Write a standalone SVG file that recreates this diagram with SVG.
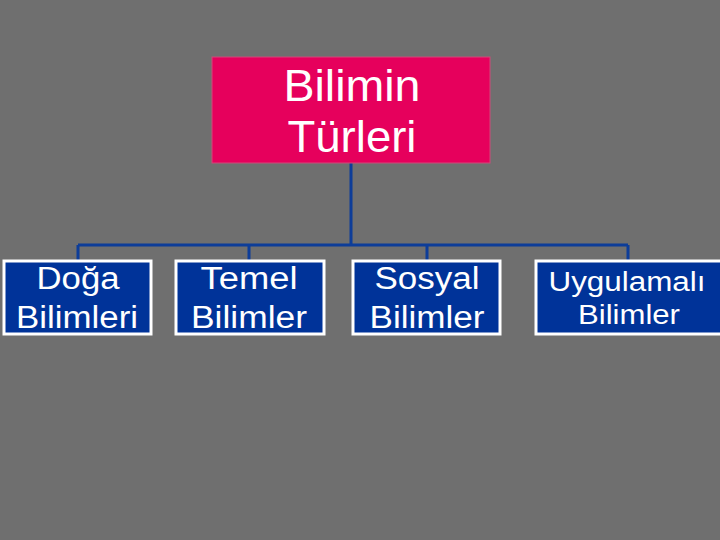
<svg xmlns="http://www.w3.org/2000/svg" width="720" height="540" viewBox="0 0 720 540">
<style>
.c{fill:#003399;stroke:#fff;stroke-width:3}
.t{font-family:"Liberation Sans",Arial,sans-serif;fill:#fff;text-anchor:middle}
.l{stroke:#0d3d99;stroke-width:3;fill:none}
</style>
<rect width="720" height="540" fill="#6f6f6f"/>
<g id="connectors">
<path class="l" d="M351 163V245M78 245H628M78 245V260M249 245V260M427 245V260M628 245V260"/>
</g>
<g id="root">
<rect x="212" y="57" width="278" height="106" fill="#e6005c" stroke="#d04a7a" stroke-width="1"/>
<text class="t" x="352" y="101" font-size="44" textLength="137" lengthAdjust="spacingAndGlyphs">Bilimin</text>
<text class="t" x="352" y="152" font-size="44" textLength="129" lengthAdjust="spacingAndGlyphs">Türleri</text>
</g>
<g id="n1"><rect class="c" x="4" y="261" width="147" height="73"/>
<text class="t" x="78" y="289" font-size="31" textLength="83" lengthAdjust="spacingAndGlyphs">Doğa</text><text class="t" x="77" y="328" font-size="31" textLength="122" lengthAdjust="spacingAndGlyphs">Bilimleri</text></g>
<g id="n2"><rect class="c" x="176" y="261" width="148" height="73"/>
<text class="t" x="249" y="289" font-size="31" textLength="97" lengthAdjust="spacingAndGlyphs">Temel</text><text class="t" x="249" y="328" font-size="31" textLength="116" lengthAdjust="spacingAndGlyphs">Bilimler</text></g>
<g id="n3"><rect class="c" x="353" y="261" width="147" height="73"/>
<text class="t" x="427" y="289" font-size="31" textLength="105" lengthAdjust="spacingAndGlyphs">Sosyal</text><text class="t" x="427" y="328" font-size="31" textLength="115" lengthAdjust="spacingAndGlyphs">Bilimler</text></g>
<g id="n4"><rect class="c" x="536" y="261" width="186" height="73"/>
<text class="t" x="627" y="291" font-size="27" textLength="157" lengthAdjust="spacingAndGlyphs">Uygulamalı</text><text class="t" x="629" y="324" font-size="27" textLength="102" lengthAdjust="spacingAndGlyphs">Bilimler</text></g>
</svg>
